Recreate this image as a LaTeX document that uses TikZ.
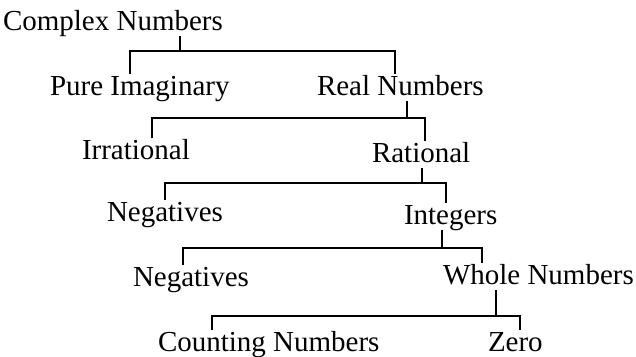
\documentclass[tikz,border=0pt]{standalone}
\usepackage{fontspec}
\setmainfont{Liberation Serif}
\usetikzlibrary{positioning}

\begin{document}
\begin{tikzpicture}[
    term/.style={
        anchor=base west,
        inner sep=0pt,
        outer sep=0pt,
        text height=12.5pt,
        text depth=3pt,
        font=\fontsize{16.5}{19}\selectfont
    },
    tree/.style={
        line width=1pt
    }
]

\useasboundingbox (0,0) rectangle (12.72,-7.14);

% ============================================================
% Terms
% ============================================================

\node[term] (complex) at (0.06,-0.62) {Complex Numbers};

\node[term] (pure) at (1.00,-1.92) {Pure Imaginary};
\node[term] (real) at (6.34,-1.92) {Real Numbers};

\node[term] (irrational) at (1.64,-3.20) {Irrational};
\node[term] (rational) at (7.44,-3.26) {Rational};

\node[term] (negone) at (2.14,-4.44) {Negatives};
\node[term] (integers) at (8.08,-4.50) {Integers};

\node[term] (negtwo) at (2.66,-5.74) {Negatives};
\node[term] (whole) at (8.86,-5.70) {Whole Numbers};

\node[term] (counting) at (3.16,-7.04) {Counting Numbers};
\node[term] (zero) at (9.76,-7.04) {Zero};


% ============================================================
% Brackets
% ============================================================

\coordinate (s1) at (3.60,-1.02);
\coordinate (l1) at (2.60,-1.02);
\coordinate (r1) at (7.90,-1.02);

\coordinate (s2) at (8.14,-2.36);
\coordinate (l2) at (3.04,-2.36);
\coordinate (r2) at (8.50,-2.36);

\coordinate (s3) at (8.44,-3.66);
\coordinate (l3) at (3.30,-3.66);
\coordinate (r3) at (8.92,-3.66);

\coordinate (s4) at (8.84,-4.96);
\coordinate (l4) at (3.66,-4.96);
\coordinate (r4) at (9.64,-4.96);

\coordinate (s5) at (9.92,-6.32);
\coordinate (l5) at (4.24,-6.32);
\coordinate (r5) at (10.40,-6.32);

\draw[tree] (complex.south -| s1) -- (s1);
\draw[tree] (pure.north -| l1) |- (r1) -- (real.north -| r1);

\draw[tree] (real.south -| s2) -- (s2);
\draw[tree] (irrational.north -| l2) |- (r2) -- (rational.north -| r2);

\draw[tree] (rational.south -| s3) -- (s3);
\draw[tree] (negone.north -| l3) |- (r3) -- (integers.north -| r3);

\draw[tree] (integers.south -| s4) -- (s4);
\draw[tree] (negtwo.north -| l4) |- (r4) -- (whole.north -| r4);

\draw[tree] (whole.south -| s5) -- (s5);
\draw[tree] (counting.north -| l5) |- (r5) -- (zero.north -| r5);

\end{tikzpicture}
\end{document}
